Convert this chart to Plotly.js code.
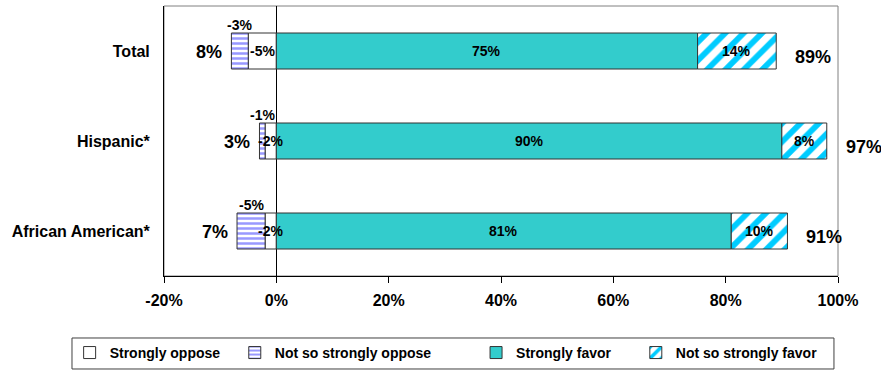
<!DOCTYPE html>
<html>
<head>
<meta charset="utf-8">
<script src="https://cdn.plot.ly/plotly-3.0.1.min.js"></script>
<style>
  html, body { margin: 0; padding: 0; background: #fff; }
  #chart { width: 881px; height: 370px; }
</style>
</head>
<body>
<div id="chart"></div>
<script>
// Survey groups (top to bottom) and the share of each response, in percent
const groups = ['Total', 'Hispanic*', 'African American*'];
const stronglyOppose = [-5, -2, -2];
const notSoStronglyOppose = [-3, -1, -5];
const stronglyFavor = [75, 90, 81];
const notSoStronglyFavor = [14, 8, 10];
const opposeTotals = [8, 3, 7];
const favorTotals = [89, 97, 91];

const seriesNames = ['Strongly oppose', 'Not so strongly oppose', 'Strongly favor', 'Not so strongly favor'];
const tickValues = [-20, 0, 20, 40, 60, 80, 100];
const tickLabels = ['-20%', '0%', '20%', '40%', '60%', '80%', '100%'];

const FONT = 'Arial, "Liberation Sans", sans-serif';
const OUTLINE = { color: '#333333', width: 1 };

const traces = [
  {
    type: 'bar', orientation: 'h', name: seriesNames[0], legend: 'legend',
    x: stronglyOppose, y: groups,
    marker: { color: '#ffffff', line: OUTLINE }
  },
  {
    type: 'bar', orientation: 'h', name: seriesNames[1], legend: 'legend2',
    x: notSoStronglyOppose, y: groups,
    marker: {
      color: '#ffffff', line: OUTLINE,
      pattern: { shape: '-', fgcolor: '#9999ff', bgcolor: '#ffffff', size: 5, solidity: 0.5, fillmode: 'replace' }
    }
  },
  {
    type: 'bar', orientation: 'h', name: seriesNames[2], legend: 'legend3',
    x: stronglyFavor, y: groups,
    marker: { color: '#33cccc', line: OUTLINE }
  },
  {
    type: 'bar', orientation: 'h', name: seriesNames[3], legend: 'legend4',
    x: notSoStronglyFavor, y: groups,
    marker: {
      color: '#ffffff', line: OUTLINE,
      pattern: { shape: '/', fgcolor: '#00ccff', bgcolor: '#ffffff', size: 13, solidity: 0.45, fillmode: 'replace' }
    }
  }
];

// Segment and total labels placed from the same values as the bars
const annotations = [];
const segFont = { family: FONT, size: 14, color: '#000', weight: 'bold' };
const totFont = { family: FONT, size: 18, color: '#000', weight: 'bold' };
groups.forEach((g, i) => {
  const so = stronglyOppose[i], nso = notSoStronglyOppose[i];
  const sf = stronglyFavor[i], nsf = notSoStronglyFavor[i];
  annotations.push({ x: so / 2, y: g, text: so + '%', showarrow: false, font: segFont });
  annotations.push({ x: so + nso / 2, y: g, yshift: 26, text: nso + '%', showarrow: false, font: segFont });
  annotations.push({ x: sf / 2, y: g, text: sf + '%', showarrow: false, font: segFont });
  annotations.push({ x: sf + nsf / 2, y: g, text: nsf + '%', showarrow: false, font: segFont });
  annotations.push({ x: so + nso, y: g, xanchor: 'right', xshift: -7, yshift: -1,
    text: opposeTotals[i] + '%', showarrow: false, font: totFont });
  annotations.push({ x: sf + nsf, y: g, xanchor: 'left', xshift: 17, yshift: -6,
    text: favorTotals[i] + '%', showarrow: false, font: totFont });
});

function legendAt(x) {
  return {
    orientation: 'h', x: x, y: -0.285, xanchor: 'left', yanchor: 'middle',
    bgcolor: 'rgba(0,0,0,0)', borderwidth: 0, itemwidth: 30,
    font: { family: FONT, size: 14, color: '#000', weight: 'bold' }
  };
}

const layout = {
  width: 881, height: 370, autosize: false,
  margin: { l: 164, r: 43, t: 6, b: 94, pad: 0, autoexpand: false },
  paper_bgcolor: '#ffffff', plot_bgcolor: '#ffffff',
  barmode: 'relative', bargap: 0.6,
  font: { family: FONT, color: '#000' },
  xaxis: {
    range: [-20, 100], tickvals: tickValues, ticktext: tickLabels,
    ticks: 'outside', ticklen: 6, tickcolor: '#000', tickwidth: 1,
    showline: true, linecolor: '#000', linewidth: 1,
    zeroline: true, zerolinecolor: '#000', zerolinewidth: 1,
    showgrid: false, fixedrange: true, ticklabelstandoff: 4,
    tickfont: { family: FONT, size: 16, color: '#000', weight: 'bold' }
  },
  yaxis: {
    type: 'category', autorange: 'reversed',
    showline: true, linecolor: '#000', linewidth: 1,
    ticks: '', showgrid: false, zeroline: false, fixedrange: true,
    ticklabelstandoff: 10,
    tickfont: { family: FONT, size: 16, color: '#000', weight: 'bold' }
  },
  legend: legendAt(-0.14),
  legend2: legendAt(0.105),
  legend3: legendAt(0.463),
  legend4: legendAt(0.7),
  shapes: [
    { type: 'rect', xref: 'paper', yref: 'paper', x0: 0, x1: 1, y0: 0, y1: 1,
      line: { color: '#808080', width: 1 }, layer: 'below' },
    { type: 'rect', xref: 'paper', yref: 'paper', x0: -0.1365, x1: 0.994, y0: -0.3444, y1: -0.2296,
      line: { color: '#404040', width: 1 }, layer: 'below' }
  ],
  annotations: annotations,
  showlegend: true
};

Plotly.newPlot('chart', traces, layout, { displayModeBar: false, staticPlot: true });
</script>
</body>
</html>
